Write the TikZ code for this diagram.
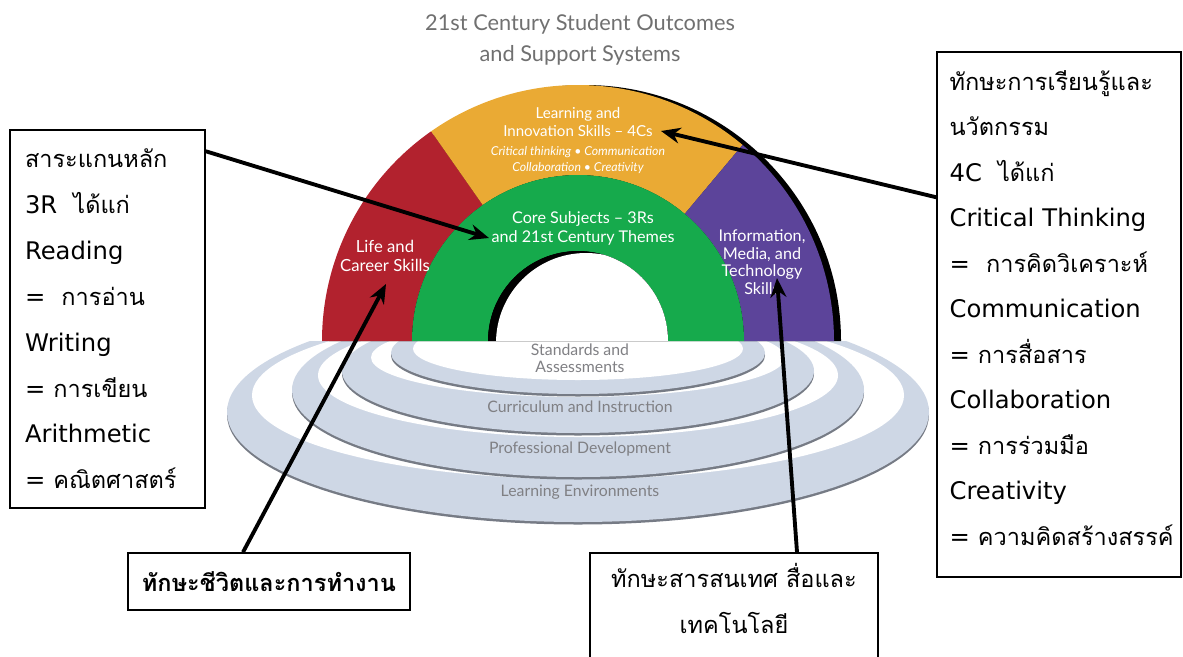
\documentclass[tikz,border=0pt]{standalone}
\usepackage{fontspec}
\setmainfont{Lato}
\newfontfamily\boxfont{DejaVu Sans}
\newfontfamily\thai[Script=Thai, Scale=0.97]{Loma}
\definecolor{lifered}{RGB}{178, 34, 46}
\definecolor{learnyellow}{RGB}{234, 170, 52}
\definecolor{coregreen}{RGB}{22, 170, 76}
\definecolor{techpurple}{RGB}{92, 68, 154}
\definecolor{ringblue}{RGB}{206, 215, 229}
\definecolor{ringline}{RGB}{118, 123, 133}
\definecolor{ringgray}{RGB}{128, 128, 132}
\definecolor{titlegray}{RGB}{112, 112, 112}
\usetikzlibrary{arrows.meta, positioning, calc}

\begin{document}
\begin{tikzpicture}[x=0.02cm, y=-0.02cm,
  thaibox/.style={draw=black, line width=0.9pt, fill=white, inner sep=0pt, font=\boxfont\fontsize{13.8}{25.9}\selectfont},
  pointer/.style={line width=2.2pt, -{Stealth[length=11pt, width=9pt]}},
  bowtext/.style={text=white, align=center, font=\fontsize{9}{10.2}\selectfont},
  ringtext/.style={text=ringgray, align=center, font=\fontsize{9}{9.8}\selectfont}]
  \useasboundingbox (0,0) rectangle (1183,656);
  \coordinate (c) at (578,341);

  % Title
  \node[text=titlegray, align=center, font=\fontsize{12.4}{17.5}\selectfont] (title) at (580,40) {21st Century Student Outcomes\\and Support Systems};

  % Support system rings (outer one first)
  \begin{scope}
    \clip (0,341) rectangle (1183,656);
    \foreach \yo/\ao/\bo/\yi/\ai/\bi in {412/351/110/395.3/326/83.7, 390/286/87/375.3/260/61.7,
                                          371/236/62/357.5/207/39.5, 353/187/41/348.7/165/31.3} {
      \fill[ringline] (578,\yo+2.5) ellipse[x radius=\ao, y radius=\bo];
      \fill[ringblue] (578,\yo) ellipse[x radius=\ao, y radius=\bo];
      \fill[white] (578,\yi) ellipse[x radius=\ai, y radius=\bi];
    }
  \end{scope}

  % Rainbow
  \fill[black] ($(c)+(7,0)+(180:256)$) arc[start angle=180, end angle=360, radius=256] -- cycle;
  \foreach \col/\from/\to in {lifered/180/235, learnyellow/235/310, techpurple/310/360} {
    \fill[\col] ($(c)+(\from:166)$) arc[start angle=\from, end angle=\to, radius=166]
      -- ($(c)+(\to:256)$) arc[start angle=\to, end angle=\from, radius=256] -- cycle;
  }
  \fill[coregreen] ($(c)+(180:166)$) arc[start angle=180, end angle=360, radius=166]
    -- ($(c)+(0:90)$) arc[start angle=360, end angle=180, radius=90] -- cycle;
  \begin{scope}
    \clip ($(c)+(180:90)$) arc[start angle=180, end angle=360, radius=90] -- cycle;
    \fill[black] (c) circle[radius=90];
    \fill[white] ($(c)+(8,2)$) circle[radius=90];
  \end{scope}

  % Rainbow labels
  \node[bowtext, font=\fontsize{8.6}{10.2}\selectfont] (learn) at (578,122) {Learning and\\Innovation Skills -- 4Cs};
  \node[bowtext, font=\itshape\fontsize{7}{9}\selectfont] (fourc) at (578,160) {Critical thinking • Communication\\Collaboration • Creativity};
  \node[bowtext, font=\fontsize{9.2}{10.8}\selectfont] (core) at (583,228) {Core Subjects -- 3Rs\\and 21st Century Themes};
  \node[bowtext, font=\fontsize{9.5}{10.4}\selectfont] (life) at (385,256) {Life and\\Career Skills};
  \node[bowtext, font=\fontsize{9.2}{10}\selectfont] (imt) at (762,262) {Information,\\Media, and\\Technology\\Skills};

  % Ring labels
  \node[ringtext] (stand) at (580,358) {Standards and\\Assessments};
  \node[ringtext] (curr) at (580,407) {Curriculum and Instruction};
  \node[ringtext] (prof) at (580,449) {Professional Development};
  \node[ringtext] (env) at (580,492) {Learning Environments};

  % Thai notes
  \node[thaibox, minimum width=3.9cm, minimum height=7.56cm, text width=3.3cm, align=left, font=\boxfont\fontsize{13.8}{26.1}\selectfont] (corebox) at (107.5,319)
    {{\thai สาระแกนหลัก}\\3R\ \ {\thai ได้แก่}\\Reading\\=\ \ {\thai การอ่าน}\\Writing\\=~{\thai การเขียน}\\Arithmetic\\=~{\thai คณิตศาสตร์}};
  \node[thaibox, minimum width=4.88cm, minimum height=10.5cm] (learnbox) at (1059,314.5) {};
  \node[anchor=north west, inner sep=0pt, text width=4.5cm, align=left, font=\boxfont\fontsize{13.8}{25.9}\selectfont] (learntext) at ($(learnbox.north west)+(13,18.5)$)
    {{\thai ทักษะการเรียนรู้และ}\\{\thai นวัตกรรม}\\4C\ \ {\thai ได้แก่}\\Critical Thinking\\=\ \ {\thai การคิดวิเคราะห์}\\Communication\\=~{\thai การสื่อสาร}\\Collaboration\\=~{\thai การร่วมมือ}\\Creativity\\=~{\thai ความคิดสร้างสรรค์}};
  \node[thaibox, font=\thai\bfseries\fontsize{13.8}{25.9}\selectfont, minimum width=5.64cm, minimum height=1.14cm] (lifebox) at (269,581.5) {ทักษะชีวิตและการทำงาน};
  \node[thaibox, font=\thai\fontsize{13.8}{25.9}\selectfont, minimum width=5.76cm, minimum height=2.1cm, text depth=8pt, anchor=north, align=center] (imtbox) at (734,552) {ทักษะสารสนเทศ สื่อและ\\เทคโนโลยี};

  % Pointers
  \coordinate (coretip) at (489,238);
  \coordinate (learntip) at (661,131);
  \coordinate (lifetip) at (386,284);
  \coordinate (imttip) at (777,278);
  \draw[pointer] ($(corebox.north east)+(0,22)$) -- (coretip);
  \draw[pointer] ($(learnbox.north west)+(0,146)$) -- (learntip);
  \draw[pointer] ($(lifebox.north)+(-26,0)$) -- (lifetip);
  \draw[pointer] ($(imtbox.north)+(63,0)$) -- (imttip);
\end{tikzpicture}
\end{document}
